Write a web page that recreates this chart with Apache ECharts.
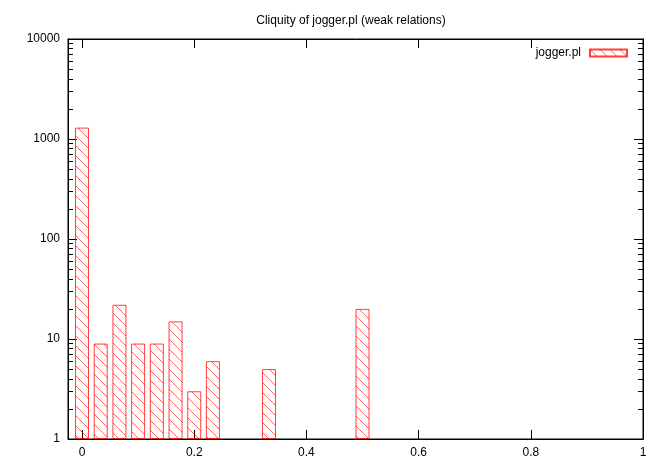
<!DOCTYPE html>
<html>
<head>
<meta charset="utf-8">
<style>
  html, body { margin: 0; padding: 0; background: #fff; }
  #chart { width: 664px; height: 465px; }
</style>
<script src="https://cdn.jsdelivr.net/npm/echarts@6/dist/echarts.min.js"></script>
</head>
<body>
<div id="chart"></div>
<script>
// cliquity bins and counts
const cliquity = [0, 0.0333, 0.0667, 0.1, 0.1333, 0.1667, 0.2, 0.2333, 0.3333, 0.5]
const counts = [1300, 9, 22, 9, 9, 15, 3, 6, 5, 20]
const xTicks = [0, 0.2, 0.4, 0.6, 0.8, 1]
const yMajor = [1, 10, 100, 1000, 10000]
const yMinor = [2, 3, 4, 5, 6, 7, 8, 9, 20, 30, 40, 50, 60, 70, 80, 90,
  200, 300, 400, 500, 600, 700, 800, 900, 2000, 3000, 4000, 5000, 6000, 7000, 8000, 9000]

// hatch pattern ( \\\ lines )
function makeHatch(){
  const c = document.createElement('canvas')
  const s = 10
  c.width = s
  c.height = s
  const ctx = c.getContext('2d')
  ctx.strokeStyle = 'rgba(255,0,0,0.6)'
  ctx.lineWidth = 1
  for (let k = -1; k <= 1; k++) {
    ctx.beginPath()
    ctx.moveTo(k * s, 0)
    ctx.lineTo(k * s + s, s)
    ctx.stroke()
  }
  return c
}
const hatch = { image: makeHatch(), repeat: 'repeat' }

const font = 'Liberation Sans'
const black = '#000'

function yAxisCfg(position, values, len, showLabel){
  return {
    type: 'log',
    logBase: 10,
    min: 1,
    max: 10000,
    position: position,
    offset: 0,
    axisLine: { show: true, onZero: false, lineStyle: { color: black, width: 1 } },
    axisTick: { show: true, inside: true, length: len, customValues: values, lineStyle: { color: black } },
    axisLabel: {
      show: showLabel,
      customValues: yMajor,
      formatter: v => String(Math.round(v)),
      margin: 8,
      color: black,
      fontFamily: font,
      fontSize: 12
    },
    splitLine: { show: false },
    minorTick: { show: false }
  }
}

function xAxisCfg(position, values, len, showLabel){
  return {
    type: 'value',
    min: -0.025,
    max: 1,
    position: position,
    axisLine: { show: true, onZero: false, lineStyle: { color: black, width: 1 } },
    axisTick: { show: true, inside: true, length: len, customValues: values, lineStyle: { color: black } },
    axisLabel: {
      show: showLabel,
      customValues: xTicks,
      margin: 8,
      color: black,
      fontFamily: font,
      fontSize: 12
    },
    splitLine: { show: false }
  }
}

const chart = echarts.init(document.getElementById('chart'))
chart.setOption({
  backgroundColor: '#fff',
  animation: false,
  title: {
    text: 'Cliquity of jogger.pl (weak relations)',
    left: 346,
    top: 10,
    textAlign: 'center',
    textStyle: { fontFamily: font, fontSize: 12, fontWeight: 'normal', color: black }
  },
  legend: {
    right: 31,
    top: 42,
    align: 'right',
    itemWidth: 37,
    itemHeight: 7,
    itemGap: 0,
    textStyle: { fontFamily: font, fontSize: 12, color: black, padding: [0, 4, 0, 0] },
    data: [{ name: 'jogger.pl', icon: 'rect' }]
  },
  grid: {
    left: 68,
    right: 21,
    top: 39,
    bottom: 26,
    show: true,
    borderColor: black,
    borderWidth: 1,
    backgroundColor: 'transparent'
  },
  xAxis: [
    xAxisCfg('bottom', xTicks, 9, true),
    xAxisCfg('top', xTicks, 9, false)
  ],
  yAxis: [
    yAxisCfg('left', yMajor, 9, true),
    yAxisCfg('left', yMinor, 5, false),
    yAxisCfg('right', yMajor, 9, false),
    yAxisCfg('right', yMinor, 5, false)
  ],
  series: [
    {
      name: 'jogger.pl',
      type: 'bar',
      xAxisIndex: 0,
      yAxisIndex: 0,
      barWidth: 14,
      data: cliquity.map((x, i) => [x, counts[i]]),
      itemStyle: {
        color: hatch,
        borderColor: 'rgba(255,0,0,0.75)',
        borderWidth: 1
      },
      emphasis: { disabled: true }
    }
  ]
})
</script>
</body>
</html>
